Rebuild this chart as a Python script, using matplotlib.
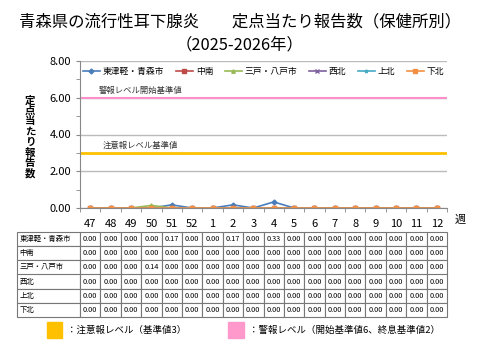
import matplotlib
matplotlib.use("Agg")
import matplotlib.pyplot as plt

plt.rcParams['font.family'] = ['Noto Sans CJK JP', 'DejaVu Sans']

### DATA
weeks = ["47", "48", "49", "50", "51", "52", "1", "2", "3", "4", "5", "6", "7", "8", "9", "10", "11", "12"]
areas = ["東津軽・青森市", "中南", "三戸・八戸市", "西北", "上北", "下北"]
aomori = [0, 0, 0, 0, 0.17, 0, 0, 0.17, 0, 0.33, 0, 0, 0, 0, 0, 0, 0, 0]
chunan = [0] * 18
hachinohe = [0, 0, 0, 0.14, 0, 0, 0, 0, 0, 0, 0, 0, 0, 0, 0, 0, 0, 0]
seihoku = [0] * 18
kamikita = [0] * 18
shimokita = [0] * 18
series = [aomori, chunan, hachinohe, seihoku, kamikita, shimokita]
colors = ["#4A7EBB", "#BE4B48", "#98B954", "#7D60A0", "#46AAC5", "#F28F43"]
markers = ["D", "s", "^", "x", "*", "s"]
warn_level = 6
caution_level = 3

W, H = 480, 360
fig = plt.figure(figsize=(4.8, 3.6), dpi=100)

def box(l, t, r, b):
    return [l / W, 1 - b / H, (r - l) / W, (b - t) / H]

### TITLE
fig.text(0.5, 1 - 22 / H, "青森県の流行性耳下腺炎　　定点当たり報告数（保健所別）",
         ha="center", va="center", fontsize=11.8)
fig.text(0.5, 1 - 45 / H, "（2025-2026年）", ha="center", va="center", fontsize=11.8)

### CHART
ax = fig.add_axes(box(80, 61, 447, 208))
x = list(range(len(weeks)))
for vals, name, c, m in zip(series, areas, colors, markers):
    ax.plot(x, vals, color=c, marker=m, markersize=2.5, linewidth=1.2, label=name)
ax.axhline(warn_level, color="#FF8FC8", linewidth=1.5)
ax.axhline(caution_level, color="#FFC000", linewidth=2)
ax.text(0.4, warn_level + 0.15, "警報レベル開始基準値", fontsize=6, color="#333333", va="bottom")
ax.text(0.6, caution_level + 0.15, "注意報レベル基準値", fontsize=6, color="#333333", va="bottom")

ax.set_xlim(-0.5, len(weeks) - 0.5)
ax.set_ylim(0, 8)
ax.set_yticks([0, 2, 4, 6, 8])
ax.set_yticks([1, 3, 5, 7], minor=True)
ax.set_yticklabels(["%.2f" % v for v in [0, 2, 4, 6, 8]], fontsize=8)
ax.set_xticks(x)
ax.set_xticklabels(weeks, fontsize=8)
ax.set_xticks([i + 0.5 for i in range(-1, len(weeks))], minor=True)
ax.tick_params(axis="x", which="major", length=0, pad=8)
ax.tick_params(axis="x", which="minor", length=3, color="#888888")
ax.tick_params(axis="y", which="both", length=3, color="#888888")
ax.grid(axis="y", color="#BBBBBB", linewidth=1)
ax.set_axisbelow(True)
for s in ["top", "right"]:
    ax.spines[s].set_visible(False)
ax.spines["left"].set_color("#888888")
ax.spines["bottom"].set_color("#888888")
ax.legend(loc="upper center", bbox_to_anchor=(0.5, 1.0), ncol=6, fontsize=6.3,
          frameon=False, handlelength=2, columnspacing=1.3, handletextpad=0.3,
          borderaxespad=0.3)
fig.text(455 / W, 1 - 220 / H, "週", fontsize=8, va="center")
fig.text(30 / W, 1 - 137 / H, "\n".join("定点当たり報告数"), fontsize=7.5,
         ha="center", va="center", linespacing=1.05, fontweight="bold")

### TABLE
tax = fig.add_axes(box(17, 232, 447, 317))
tax.axis("off")
cells = [[name] + ["%.2f" % v for v in vals] for name, vals in zip(areas, series)]
first_w = 63 / 430
col_w = (1 - first_w) / len(weeks)
tbl = tax.table(cellText=cells, colWidths=[first_w] + [col_w] * len(weeks),
                loc="center", bbox=[0, 0, 1, 1], cellLoc="center")
tbl.auto_set_font_size(False)
tbl.set_fontsize(5.3)
for (r, c), cell in tbl.get_celld().items():
    cell.set_edgecolor("#777777")
    cell.set_linewidth(0.8)
    if c == 0:
        cell.set_text_props(ha="left")
        cell.PAD = 0.04

### BOTTOM LEGEND
fig.patches.append(plt.Rectangle((47 / W, 1 - 338 / H), 15 / W, 16 / H,
                                 transform=fig.transFigure, color="#FFC000"))
fig.text(67 / W, 1 - 330 / H, "：注意報レベル（基準値3）", fontsize=6.8, va="center")
fig.patches.append(plt.Rectangle((228 / W, 1 - 338 / H), 16 / W, 16 / H,
                                 transform=fig.transFigure, color="#FF99CC"))
fig.text(249 / W, 1 - 330 / H, "：警報レベル（開始基準値6、終息基準値2）", fontsize=6.8, va="center")

fig.savefig("out.png", dpi=100)
